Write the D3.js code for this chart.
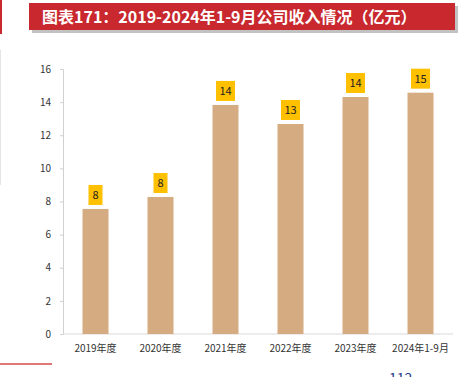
<!DOCTYPE html>
<html>
  <head>
    <meta charset="UTF-8" />
    <title></title>
    <script src="https://cdn.jsdelivr.net/npm/d3@7"></script>
    <style>
      body { margin: 0; background: #fff; }
    </style>
  </head>
  <body>
    <svg></svg>
    <script>
      // data
      const titleText = '图表171：2019-2024年1-9月公司收入情况（亿元）';
      const categories = ['2019年度', '2020年度', '2021年度', '2022年度', '2023年度', '2024年1-9月'];
      const revenue = [7.55, 8.27, 13.83, 12.68, 14.31, 14.57];
      const yTicks = [0, 2, 4, 6, 8, 10, 12, 14, 16];

      const width = 469;
      const height = 377;
      const margin = { top: 69, right: 16, bottom: 43, left: 63 };
      const font = '"Microsoft YaHei", "Noto Sans CJK SC", sans-serif';

      const svg = d3
        .select('svg')
        .attr('width', width)
        .attr('height', height)
        .style('font-family', font);

      // page decorations
      svg.append('rect').attr('x', 0).attr('y', 0).attr('width', 2).attr('height', 34).attr('fill', '#c8282e');
      svg.append('rect').attr('x', 0).attr('y', 50).attr('width', 1).attr('height', 135).attr('fill', '#e4e4e4');
      svg.append('rect').attr('x', 0).attr('y', 363).attr('width', 52).attr('height', 2).attr('fill', '#e07878');

      // title banner
      svg.append('rect').attr('x', 32).attr('y', 6).attr('width', 426).attr('height', 27).attr('fill', '#9a9a9a').attr('opacity', 0.6);
      svg.append('rect').attr('x', 29).attr('y', 3).attr('width', 426).attr('height', 27).attr('fill', '#c8282e');
      svg
        .append('text')
        .attr('x', 42)
        .attr('y', 22.5)
        .attr('fill', '#fff')
        .attr('font-size', 16)
        .attr('font-weight', 'bold')
        .text(titleText);

      // scales
      const x = d3
        .scaleBand()
        .domain(categories)
        .range([margin.left, width - margin.right])
        .paddingInner(0.6)
        .paddingOuter(0.3);
      const y = d3
        .scaleLinear()
        .domain([0, 16])
        .range([height - margin.bottom, margin.top]);

      // y axis
      const yAxis = svg
        .append('g')
        .attr('transform', `translate(${margin.left},0)`)
        .call(d3.axisLeft(y).tickValues(yTicks).tickSize(3).tickPadding(9));
      yAxis.select('.domain').attr('stroke', '#d0d0d0');
      yAxis.selectAll('.tick line').attr('stroke', '#d0d0d0');
      yAxis.selectAll('text').attr('font-size', 10).attr('fill', '#333').style('font-family', font);

      // x axis
      const xAxis = svg
        .append('g')
        .attr('transform', `translate(0,${y(0)})`)
        .call(d3.axisBottom(x).tickSize(0).tickPadding(11));
      xAxis.select('.domain').attr('stroke', '#d9d9d9').attr('d', `M${margin.left},0H${width - margin.right}`);
      xAxis.selectAll('text').attr('font-size', 10).attr('fill', '#333').style('font-family', font);

      const data = categories.map((c, i) => ({ c, v: revenue[i] }));

      // bars
      svg
        .append('g')
        .selectAll('rect')
        .data(data)
        .join('rect')
        .attr('x', (d) => x(d.c))
        .attr('y', (d) => y(d.v))
        .attr('width', x.bandwidth())
        .attr('height', (d) => y(0) - y(d.v))
        .attr('fill', '#d5ab81');

      // value labels
      const fmt = d3.format('.0f');
      const lab = svg
        .append('g')
        .selectAll('g')
        .data(data)
        .join('g')
        .attr('transform', (d) => `translate(${x(d.c) + x.bandwidth() / 2},${y(d.v) - 4})`);
      lab
        .append('rect')
        .attr('x', (d) => (fmt(d.v).length > 1 ? -9.5 : -7))
        .attr('y', -20)
        .attr('width', (d) => (fmt(d.v).length > 1 ? 19 : 14))
        .attr('height', 20)
        .attr('fill', '#ffc000');
      lab
        .append('text')
        .attr('y', -6)
        .attr('text-anchor', 'middle')
        .attr('font-size', 11)
        .attr('fill', '#222')
        .text((d) => fmt(d.v));

      // page number (cut off at the bottom edge, as in the source page)
      svg
        .append('text')
        .attr('x', 389)
        .attr('y', 383)
        .attr('font-size', 14)
        .attr('fill', '#1f3a8a')
        .text('112');
    </script>
  </body>
</html>
